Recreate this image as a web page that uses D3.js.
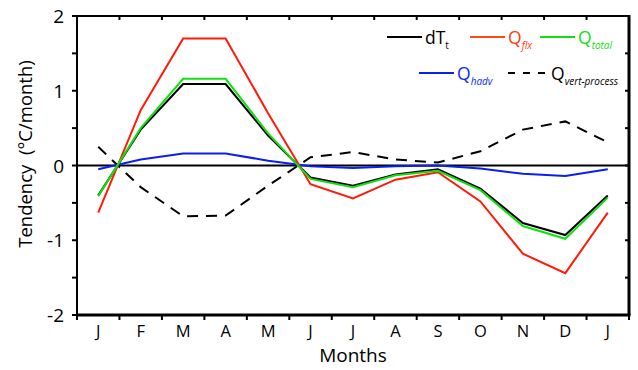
<!DOCTYPE html>
<html lang="en">
<head>
    <meta charset="UTF-8">
    <title>Tendency terms by month</title>
    <script src="https://d3js.org/d3.v7.min.js"></script>
    <style>
        body { margin: 0; background: #fff; }
        svg { font-family: "Open Sans", "DejaVu Sans", sans-serif; }
    </style>
</head>
<body>

    <svg width="638" height="370"></svg>

    <script>
        // Monthly values (Jan .. Jan)
        const months = ["J", "F", "M", "A", "M", "J", "J", "A", "S", "O", "N", "D", "J"];
        const dTt    = [-0.40, 0.48, 1.09, 1.09, 0.40, -0.16, -0.27, -0.12, -0.05, -0.31, -0.77, -0.93, -0.40];
        const Qflx   = [-0.63, 0.74, 1.70, 1.70, 0.70, -0.25, -0.44, -0.19, -0.09, -0.48, -1.18, -1.44, -0.63];
        const Qtotal = [-0.41, 0.50, 1.16, 1.16, 0.43, -0.18, -0.29, -0.13, -0.07, -0.33, -0.81, -0.98, -0.43];
        const Qhadv  = [-0.05, 0.08, 0.16, 0.16, 0.065, -0.01, -0.035, -0.01, 0.0, -0.04, -0.11, -0.14, -0.05];
        const Qvert  = [0.25, -0.29, -0.68, -0.67, -0.27, 0.11, 0.18, 0.08, 0.04, 0.19, 0.48, 0.59, 0.31];
        const yTicks = [-2, -1, 0, 1, 2];

        const margin = { top: 16, right: 9, bottom: 55, left: 77 };
        const width = 638, height = 370;

        const svg = d3.select("svg");

        const x = d3.scaleLinear()
            .domain([-0.5, months.length - 0.5])
            .range([margin.left, width - margin.right]);

        const y = d3.scaleLinear()
            .domain([-2, 2])
            .range([height - margin.bottom, margin.top]);

        const boundaries = d3.range(-0.5, months.length, 1);
        const halfSteps = d3.range(-2, 2.01, 0.5);

        // series, drawn back to front
        const series = [
            { name: "vert", values: Qvert,  color: "#000",    dash: "11,8" },
            { name: "hadv", values: Qhadv,  color: "#0a1ef0", dash: null },
            { name: "dTt",  values: dTt,    color: "#000",    dash: null },
            { name: "flx",  values: Qflx,   color: "#ff1a0a", dash: null },
            { name: "total",values: Qtotal, color: "#10e010", dash: null }
        ];

        // zero line
        svg.append("line")
            .attr("x1", x.range()[0]).attr("x2", x.range()[1])
            .attr("y1", y(0)).attr("y2", y(0))
            .attr("stroke", "#000")
            .attr("stroke-width", 2);

        const line = d3.line()
            .x((d, i) => x(i))
            .y(d => y(d));

        series.forEach(s => {
            svg.append("path")
                .datum(s.values)
                .attr("fill", "none")
                .attr("stroke", s.color)
                .attr("stroke-width", 2)
                .attr("stroke-dasharray", s.dash)
                .attr("d", line);
        });

        // frame
        const frame = svg.append("g").attr("stroke", "#000");
        frame.append("line").attr("x1", x.range()[0]).attr("x2", x.range()[1])
            .attr("y1", y(2)).attr("y2", y(2)).attr("stroke-width", 2);
        frame.append("line").attr("x1", x.range()[0] - 1).attr("x2", x.range()[1] + 1.5)
            .attr("y1", y(-2)).attr("y2", y(-2)).attr("stroke-width", 3);
        frame.append("line").attr("x1", x.range()[0]).attr("x2", x.range()[0])
            .attr("y1", y(2)).attr("y2", y(-2)).attr("stroke-width", 2);
        frame.append("line").attr("x1", x.range()[1]).attr("x2", x.range()[1])
            .attr("y1", y(2) - 1).attr("y2", y(-2)).attr("stroke-width", 3);

        // ticks: left outward, right inward, bottom outward, top inward
        halfSteps.forEach(v => {
            frame.append("line").attr("x1", x.range()[0] - 5).attr("x2", x.range()[0])
                .attr("y1", y(v)).attr("y2", y(v)).attr("stroke-width", 2);
            frame.append("line").attr("x1", x.range()[1] - 4).attr("x2", x.range()[1])
                .attr("y1", y(v)).attr("y2", y(v)).attr("stroke-width", 2);
        });
        boundaries.forEach(b => {
            frame.append("line").attr("x1", x(b)).attr("x2", x(b))
                .attr("y1", y(-2)).attr("y2", y(-2) + 5).attr("stroke-width", 2);
            frame.append("line").attr("x1", x(b)).attr("x2", x(b))
                .attr("y1", y(2)).attr("y2", y(2) + 4).attr("stroke-width", 2);
        });

        // tick labels
        svg.append("g").selectAll("text")
            .data(yTicks)
            .join("text")
            .attr("x", 64)
            .attr("y", d => y(d) + 7)
            .attr("text-anchor", "end")
            .attr("font-size", 19)
            .text(d => d);

        svg.append("g").selectAll("text")
            .data(months)
            .join("text")
            .attr("x", (d, i) => x(i))
            .attr("y", 337)
            .attr("text-anchor", "middle")
            .attr("font-size", 16.5)
            .text(d => d);

        // axis titles
        svg.append("text")
            .attr("x", (x.range()[0] + x.range()[1]) / 2)
            .attr("y", 362)
            .attr("text-anchor", "middle")
            .attr("font-size", 19)
            .text("Months");

        svg.append("text")
            .attr("transform", "translate(32,154) rotate(-90)")
            .attr("text-anchor", "middle")
            .attr("font-size", 18.5)
            .text("Tendency  (°C/month)")
            .style("white-space", "pre");

        // legend
        const legend = [
            { main: "dT", sub: "t",            color: "#000",    lineColor: "#000",    dash: null,  x: 387, y: 37, italic: false },
            { main: "Q",  sub: "flx",          color: "#ff3a10", lineColor: "#ff4a1a", dash: null,  x: 470, y: 37, italic: true },
            { main: "Q",  sub: "total",        color: "#10e010", lineColor: "#10e010", dash: null,  x: 540, y: 37, italic: true },
            { main: "Q",  sub: "hadv",         color: "#0a2af0", lineColor: "#0a1ef0", dash: null,  x: 419, y: 73, italic: true },
            { main: "Q",  sub: "vert-process", color: "#000",    lineColor: "#000",    dash: "7,8", x: 508, y: 73, italic: true }
        ];

        legend.forEach(l => {
            const g = svg.append("g").attr("transform", `translate(${l.x},${l.y})`);
            g.append("line")
                .attr("x1", 0).attr("x2", l.dash ? 40 : 35)
                .attr("y1", 0).attr("y2", 0)
                .attr("stroke", l.lineColor)
                .attr("stroke-width", 2)
                .attr("stroke-dasharray", l.dash);
            const t = g.append("text")
                .attr("x", l.dash ? 43 : 38)
                .attr("y", 7)
                .attr("font-size", 17.5)
                .attr("fill", l.color);
            t.append("tspan").text(l.main);
            t.append("tspan")
                .attr("dy", 5)
                .attr("font-size", 10)
                .attr("font-style", l.italic ? "italic" : "normal")
                .text(l.sub);
        });
    </script>

</body>
</html>
